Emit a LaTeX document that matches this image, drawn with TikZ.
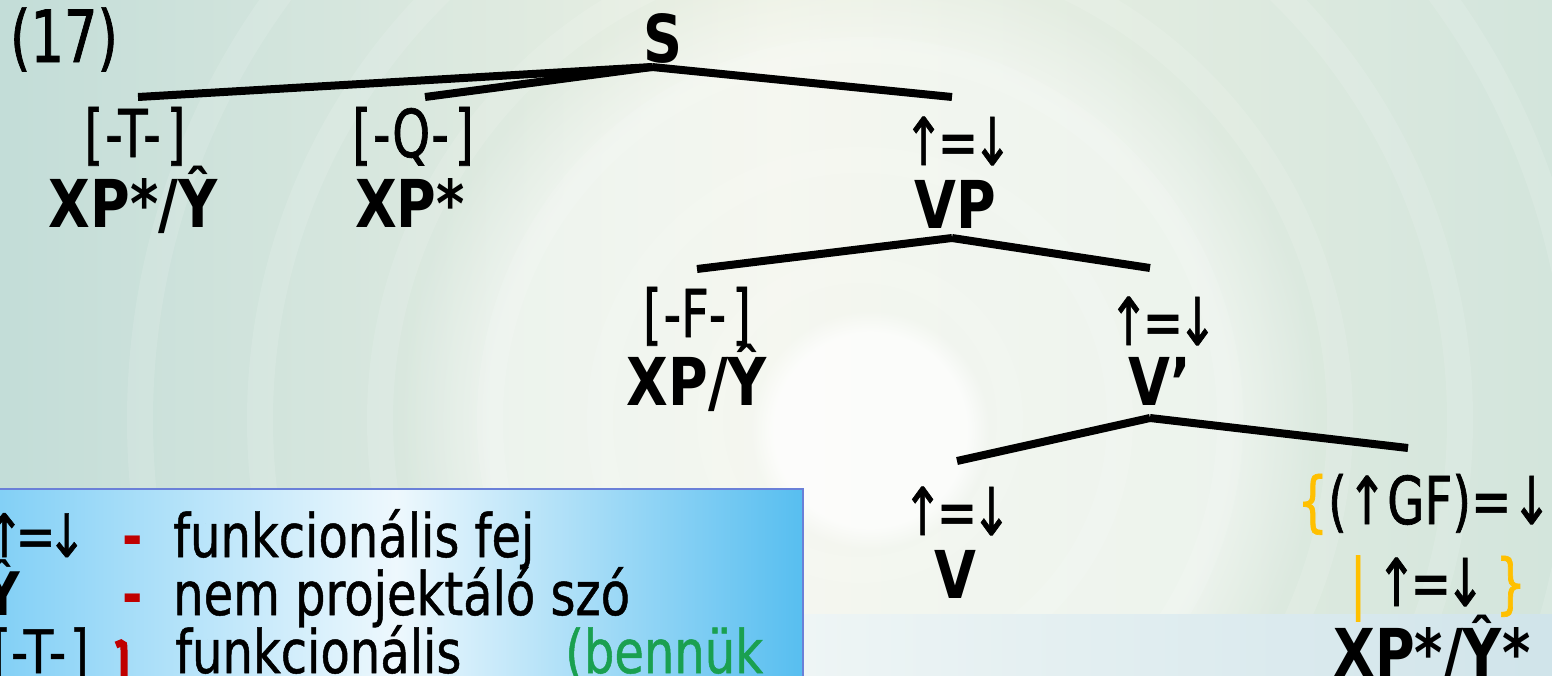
\documentclass[tikz,border=0pt]{standalone}
\usepackage{fontspec}
\setmainfont[FakeStretch=0.8]{DejaVu Sans}
\newfontfamily\regf[FakeStretch=0.73, FakeBold=1]{DejaVu Sans}
\newfontfamily\bldf[FakeStretch=0.82]{DejaVu Sans}
\newfontfamily\boxf[FakeStretch=0.8, FakeBold=0.8]{DejaVu Sans}
\usetikzlibrary{fadings,calc}
\definecolor{bgleft}{HTML}{C3DDD8}
\definecolor{bgmid}{HTML}{EDF1E4}
\definecolor{bgright}{HTML}{D3E5DC}
\definecolor{bandL}{HTML}{EEF5F5}
\definecolor{bandR}{HTML}{D0E4EA}
\definecolor{boxL}{HTML}{80CFF6}
\definecolor{boxM}{HTML}{EEF8FD}
\definecolor{boxR}{HTML}{57BEF0}
\definecolor{boxB}{HTML}{6A80D8}
\definecolor{myred}{HTML}{C00000}
\definecolor{mygreen}{HTML}{1AA050}
\definecolor{myorange}{HTML}{FFC000}
\newcommand{\ued}{↑\kern-6pt=\kern-6pt↓}
\newcommand{\uedb}{↑\kern-9pt=\kern-9pt↓}
\tikzset{
  reg/.style={font=\fontsize{66}{66}\regf, inner sep=0pt, anchor=base},
  bld/.style={font=\fontsize{66}{66}\bldf\bfseries, inner sep=0pt, anchor=base},
  boxt/.style={font=\fontsize{60}{60}\boxf, inner sep=0pt, anchor=base west},
  boxb/.style={font=\fontsize{60}{60}\bldf\bfseries, inner sep=0pt, anchor=base west},
  branch/.style={line width=8pt, line cap=butt},
}
\begin{document}
\begin{tikzpicture}[x=1pt,y=-1pt]
\useasboundingbox (0,0) rectangle (1552,675);
\clip (0,0) rectangle (1552,675);
% background
\fill[left color=bgleft, right color=bgright, middle color=bgmid] (0,0) rectangle (1552,675);
\fill[white, opacity=0.45, path fading=circle with fuzzy edge 20 percent] (860,420) circle (460pt);
\foreach \r in {150,260,370,480,600,720}
  \draw[white, opacity=0.12, line width=26pt] (860,420) circle (\r pt);
\fill[white, opacity=0.75, path fading=circle with fuzzy edge 20 percent] (870,430) circle (120pt);
\shade[left color=bandL, right color=bandR] (803,614) rectangle (1552,675);

% legend box
\draw[boxB, line width=2pt, left color=boxL, right color=boxR, middle color=boxM] (-10,489) rectangle (803,700);
\node[boxt] (l1a) at (-16,557) {\uedb};
\node[boxb, text=myred] (l1d) at (122,557) {-};
\node[boxt] (l1t) at (173,557) {funkcionális fej};
\node[boxb] (l2a) at (-16,615) {Ŷ};
\node[boxb, text=myred] (l2d) at (122,615) {-};
\node[boxt] (l2t) at (173,615) {nem projektáló szó};
\node[boxt] (l3a) at (-8,673) {[-T-\kern4pt]};
\draw[myred, line width=7pt] (116,645) -- (121,643) .. controls (124,644) .. (124,650) -- (124,680);
\node[boxt] (l3t) at (175,673) {funkcionális};
\node[boxt, text=mygreen] (l3g) at (565,673) {(bennük};

% tree
\node[reg, font=\fontsize{72}{72}\regf] (n17) at (64,62) {(17)};
\node[bld] (S) at (663,62) {S};
\node[reg] (Tf) at (135,157) {[\kern2pt-T-\kern6pt]};
\node[bld] (Tc) at (133,227) {XP*/Ŷ};
\node[reg] (Qf) at (413,157) {[\kern2pt-Q-\kern6pt]};
\node[bld] (Qc) at (410,227) {XP*};
\node[reg] (VPf) at (958,165) {\ued};
\node[bld] (VP) at (955,228) {VP};
\node[reg] (Ff) at (697,337) {[\kern2pt-F-\kern6pt]};
\node[bld] (Fc) at (697,405) {XP/Ŷ};
\node[reg] (Vbf) at (1163,345) {\ued};
\node[bld] (Vb) at (1160,405) {V’};
\node[reg] (Vf) at (957,535) {\ued};
\node[bld] (V) at (955,598) {V};
\node[reg, anchor=base east] (Cf) at (1552,524) {{\color{myorange}\{}(↑GF)=↓};
\node[reg] (Cf2) at (1438,606) {{\color{myorange}|}\kern10pt\ued\kern10pt{\color{myorange}\}}};
\node[bld] (Cc) at (1432,676) {XP*/Ŷ*};

\draw[branch] ($(S.base)+(-11,5)$) -- ($(Tf.base)+(3,-60)$);
\draw[branch] ($(S.base)+(-11,5)$) -- ($(Qf.base)+(12,-60)$);
\draw[branch] ($(S.base)+(-11,5)$) -- ($(VPf.base)+(-6,-68)$);
\draw[branch] ($(VP.base)+(-3,10)$) -- ($(Ff.base)+(0,-68)$);
\draw[branch] ($(VP.base)+(-3,10)$) -- ($(Vbf.base)+(-13,-77)$);
\draw[branch] ($(Vb.base)+(-10,13)$) -- ($(Vf.base)+(0,-74)$);
\draw[branch] ($(Vb.base)+(-10,13)$) -- ($(Cc.base)+(-24,-228)$);
\end{tikzpicture}
\end{document}
